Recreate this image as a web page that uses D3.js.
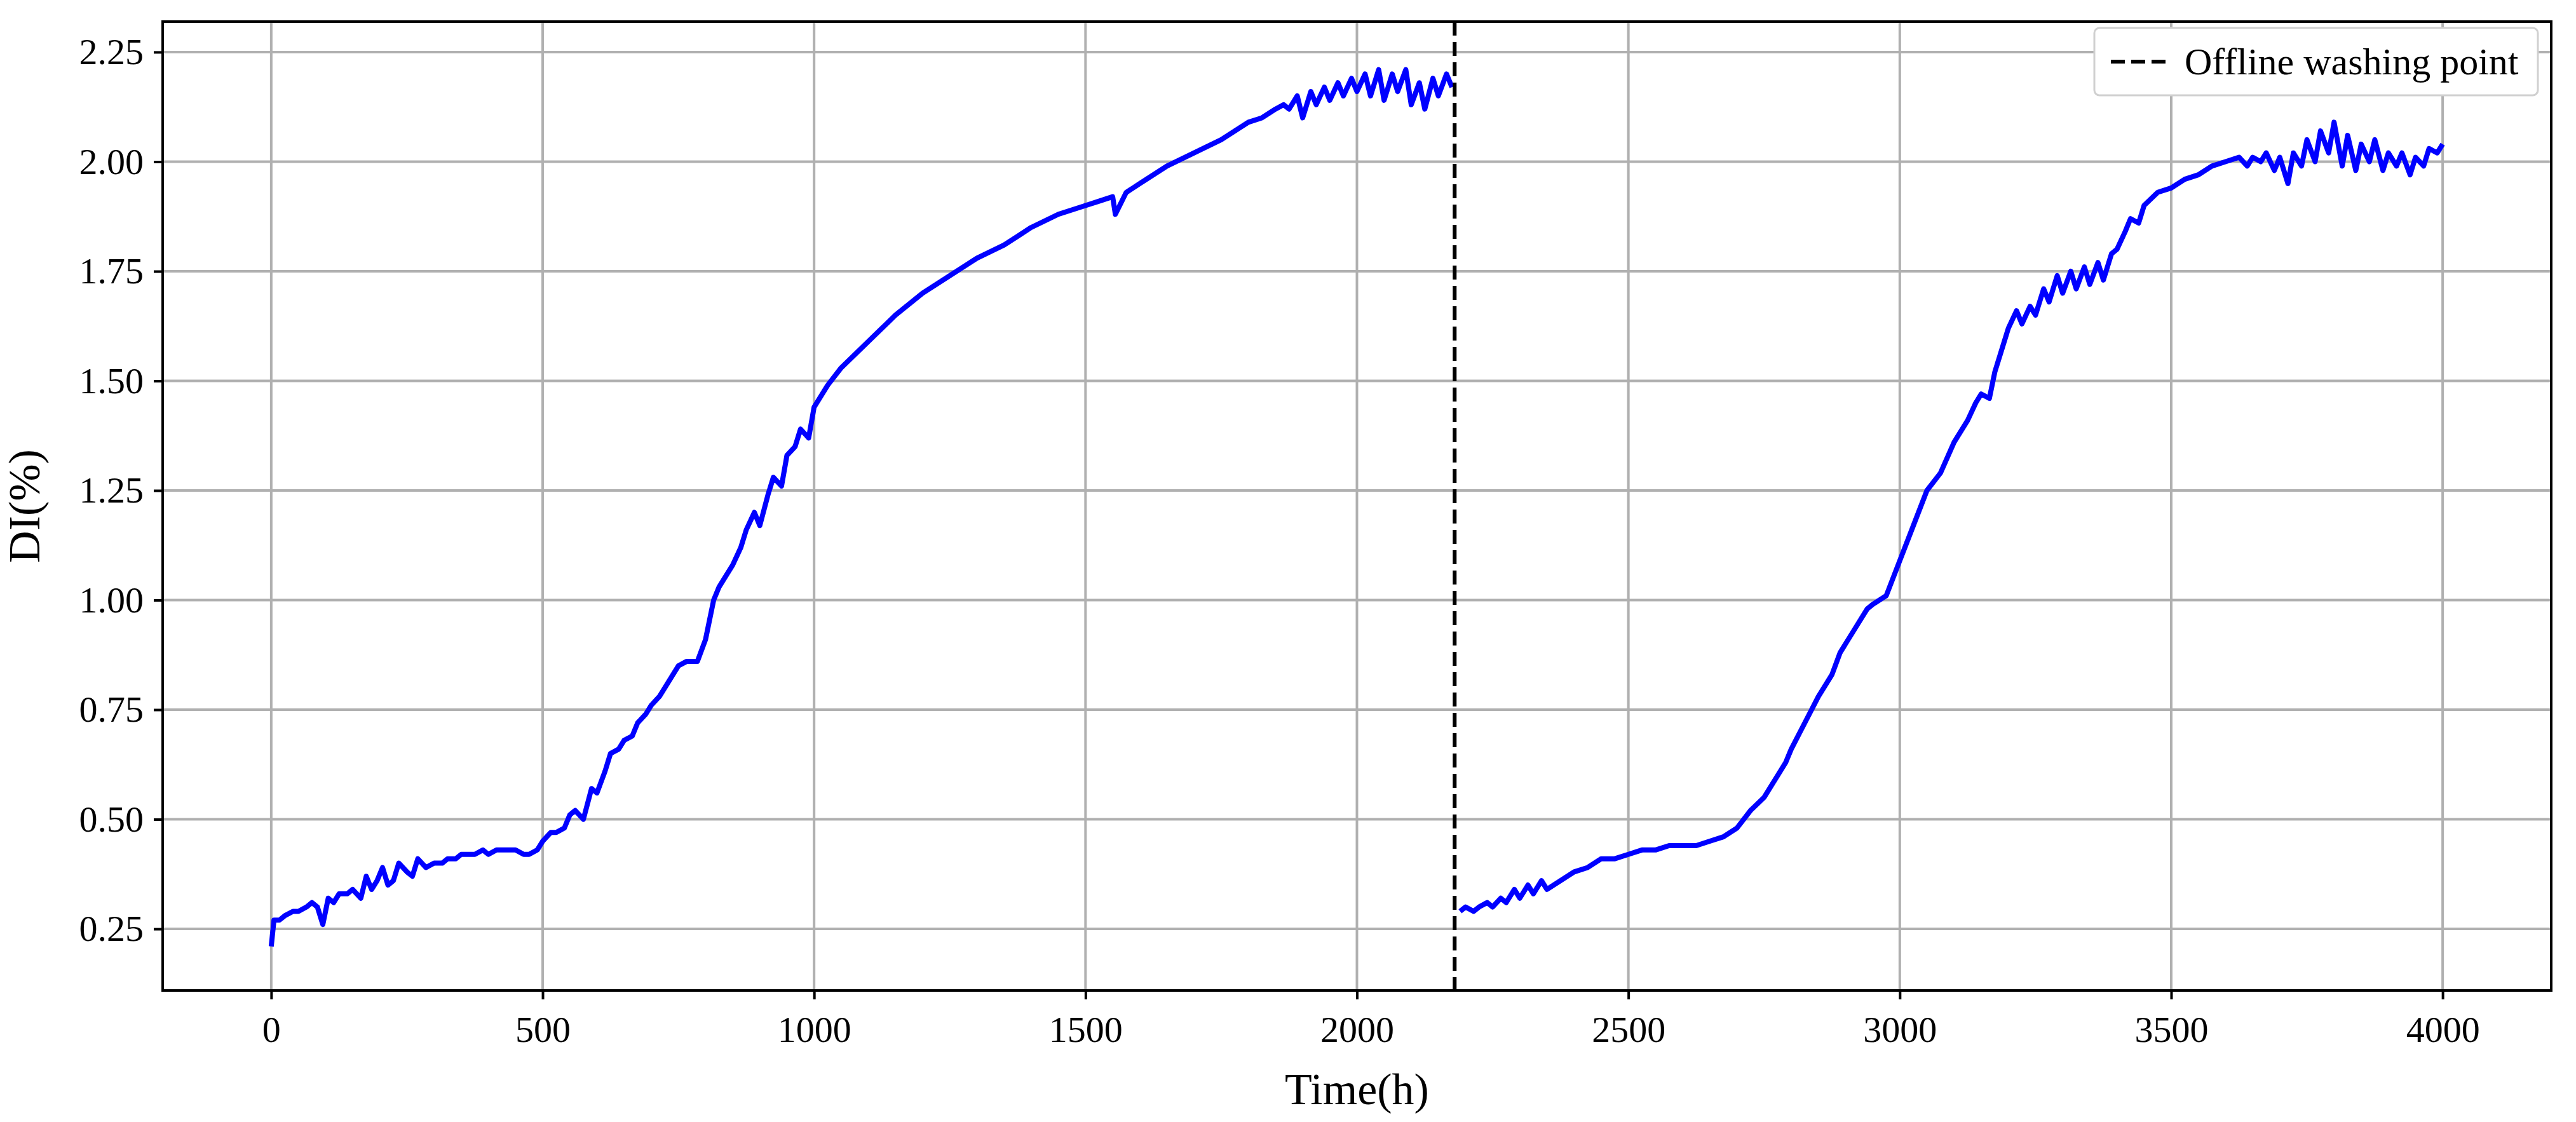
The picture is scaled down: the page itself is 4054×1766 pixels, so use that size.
<!DOCTYPE html>
<html>
<head>
<meta charset="utf-8">
<script src="https://cdn.jsdelivr.net/npm/d3@7"></script>
<style>
  body { margin: 0; background: #fff; }
  text { font-family: "Liberation Serif", "Times New Roman", serif; }
</style>
</head>
<body>
<svg id="chart" width="4054" height="1766"></svg>
<script>
// Data
var seg1Time = [0, 5, 15, 25, 40, 50, 65, 75, 85, 95, 105, 115, 125, 140, 150, 165, 175, 185, 195, 205, 215, 225, 235, 250, 260, 270, 285, 300, 315, 325, 340, 350, 365, 375, 390, 400, 415, 425, 440, 450, 465, 475, 490, 500, 515, 525, 540, 550, 560, 575, 590, 600, 615, 625, 640, 650, 665, 675, 690, 700, 715, 725, 740, 750, 765, 775, 785, 800, 815, 825, 840, 850, 865, 875, 890, 900, 915, 925, 940, 950, 965, 975, 990, 1000, 1025, 1050, 1075, 1100, 1125, 1150, 1200, 1250, 1300, 1350, 1375, 1400, 1450, 1500, 1525, 1550, 1555, 1575, 1600, 1650, 1700, 1750, 1775, 1800, 1825, 1850, 1865, 1875, 1890, 1900, 1915, 1925, 1940, 1950, 1965, 1975, 1990, 2000, 2015, 2025, 2040, 2050, 2065, 2075, 2090, 2100, 2115, 2125, 2140, 2150, 2165, 2175];
var seg1DI   = [0.21, 0.27, 0.27, 0.28, 0.29, 0.29, 0.30, 0.31, 0.30, 0.26, 0.32, 0.31, 0.33, 0.33, 0.34, 0.32, 0.37, 0.34, 0.36, 0.39, 0.35, 0.36, 0.40, 0.38, 0.37, 0.41, 0.39, 0.40, 0.40, 0.41, 0.41, 0.42, 0.42, 0.42, 0.43, 0.42, 0.43, 0.43, 0.43, 0.43, 0.42, 0.42, 0.43, 0.45, 0.47, 0.47, 0.48, 0.51, 0.52, 0.50, 0.57, 0.56, 0.61, 0.65, 0.66, 0.68, 0.69, 0.72, 0.74, 0.76, 0.78, 0.80, 0.83, 0.85, 0.86, 0.86, 0.86, 0.91, 1.00, 1.03, 1.06, 1.08, 1.12, 1.16, 1.20, 1.17, 1.24, 1.28, 1.26, 1.33, 1.35, 1.39, 1.37, 1.44, 1.49, 1.53, 1.56, 1.59, 1.62, 1.65, 1.70, 1.74, 1.78, 1.81, 1.83, 1.85, 1.88, 1.90, 1.91, 1.92, 1.88, 1.93, 1.95, 1.99, 2.02, 2.05, 2.07, 2.09, 2.10, 2.12, 2.13, 2.12, 2.15, 2.10, 2.16, 2.13, 2.17, 2.14, 2.18, 2.15, 2.19, 2.16, 2.20, 2.15, 2.21, 2.14, 2.20, 2.16, 2.21, 2.13, 2.18, 2.12, 2.19, 2.15, 2.20, 2.17];
var seg2Time = [2190, 2200, 2215, 2225, 2240, 2250, 2265, 2275, 2290, 2300, 2315, 2325, 2340, 2350, 2375, 2400, 2425, 2450, 2475, 2500, 2525, 2550, 2575, 2600, 2625, 2650, 2675, 2700, 2725, 2750, 2765, 2775, 2790, 2800, 2825, 2850, 2875, 2890, 2900, 2925, 2940, 2950, 2975, 3000, 3025, 3050, 3075, 3100, 3115, 3125, 3140, 3150, 3165, 3175, 3190, 3200, 3215, 3225, 3240, 3250, 3265, 3275, 3290, 3300, 3315, 3325, 3340, 3350, 3365, 3375, 3390, 3400, 3415, 3425, 3440, 3450, 3475, 3500, 3525, 3550, 3575, 3600, 3625, 3640, 3650, 3665, 3675, 3690, 3700, 3715, 3725, 3740, 3750, 3765, 3775, 3790, 3800, 3815, 3825, 3840, 3850, 3865, 3875, 3890, 3900, 3915, 3925, 3940, 3950, 3965, 3975, 3990, 4000];
var seg2DI   = [0.29, 0.30, 0.29, 0.30, 0.31, 0.30, 0.32, 0.31, 0.34, 0.32, 0.35, 0.33, 0.36, 0.34, 0.36, 0.38, 0.39, 0.41, 0.41, 0.42, 0.43, 0.43, 0.44, 0.44, 0.44, 0.45, 0.46, 0.48, 0.52, 0.55, 0.58, 0.60, 0.63, 0.66, 0.72, 0.78, 0.83, 0.88, 0.90, 0.95, 0.98, 0.99, 1.01, 1.09, 1.17, 1.25, 1.29, 1.36, 1.39, 1.41, 1.45, 1.47, 1.46, 1.52, 1.58, 1.62, 1.66, 1.63, 1.67, 1.65, 1.71, 1.68, 1.74, 1.70, 1.75, 1.71, 1.76, 1.72, 1.77, 1.73, 1.79, 1.80, 1.84, 1.87, 1.86, 1.90, 1.93, 1.94, 1.96, 1.97, 1.99, 2.00, 2.01, 1.99, 2.01, 2.00, 2.02, 1.98, 2.01, 1.95, 2.02, 1.99, 2.05, 2.00, 2.07, 2.02, 2.09, 1.99, 2.06, 1.98, 2.04, 2.00, 2.05, 1.98, 2.02, 1.99, 2.02, 1.97, 2.01, 1.99, 2.03, 2.02, 2.04];
var washTime = 2180;
var xTicks = [0, 500, 1000, 1500, 2000, 2500, 3000, 3500, 4000];
var yTicks = [0.25, 0.50, 0.75, 1.00, 1.25, 1.50, 1.75, 2.00, 2.25];

var margin = {left: 256, right: 39, top: 34, bottom: 207};
var width = 4054, height = 1766;
var svg = d3.select("#chart");

var x = d3.scaleLinear().domain([-200, 4200]).range([margin.left, width - margin.right]);
var y = d3.scaleLinear().domain([0.1095, 2.3195]).range([height - margin.bottom, margin.top]);

// Grid lines
svg.append("g").selectAll("line").data(xTicks).enter().append("line")
  .attr("x1", function(d){ return x(d); }).attr("x2", function(d){ return x(d); })
  .attr("y1", margin.top).attr("y2", height - margin.bottom)
  .attr("stroke", "#b0b0b0").attr("stroke-width", 4);
svg.append("g").selectAll("line").data(yTicks).enter().append("line")
  .attr("x1", margin.left).attr("x2", width - margin.right)
  .attr("y1", function(d){ return y(d); }).attr("y2", function(d){ return y(d); })
  .attr("stroke", "#b0b0b0").attr("stroke-width", 4);

// Data lines
var line = d3.line().x(function(d){ return x(d[0]); }).y(function(d){ return y(d[1]); });
[[seg1Time, seg1DI], [seg2Time, seg2DI]].forEach(function(s){
  svg.append("path")
    .datum(d3.zip(s[0], s[1]))
    .attr("d", line)
    .attr("fill", "none").attr("stroke", "#0000ff").attr("stroke-width", 8)
    .attr("stroke-linejoin", "round");
});

// Washing point
svg.append("line")
  .attr("x1", x(washTime)).attr("x2", x(washTime))
  .attr("y1", margin.top).attr("y2", height - margin.bottom)
  .attr("stroke", "#000").attr("stroke-width", 6).attr("stroke-dasharray", "22,10");

// Axes
var xAxis = d3.axisBottom(x).tickValues(xTicks).tickSize(14).tickPadding(26).tickFormat(d3.format("d"));
var yAxis = d3.axisLeft(y).tickValues(yTicks).tickSize(14).tickPadding(16).tickFormat(d3.format(".2f"));
var gx = svg.append("g").attr("transform", "translate(0," + (height - margin.bottom) + ")").call(xAxis);
var gy = svg.append("g").attr("transform", "translate(" + margin.left + ",0)").call(yAxis);
[gx, gy].forEach(function(g){
  g.select(".domain").remove();
  g.selectAll(".tick line").attr("stroke", "#000").attr("stroke-width", 4);
  g.selectAll(".tick text").attr("font-size", 58).attr("fill", "#000")
    .style("font-family", "Liberation Serif");
});

// Frame
svg.append("rect")
  .attr("x", margin.left).attr("y", margin.top)
  .attr("width", width - margin.left - margin.right)
  .attr("height", height - margin.top - margin.bottom)
  .attr("fill", "none").attr("stroke", "#000").attr("stroke-width", 4);

// Axis labels
svg.append("text").attr("x", (margin.left + width - margin.right) / 2).attr("y", 1738)
  .attr("text-anchor", "middle").attr("font-size", 70).text("Time(h)");
svg.append("text").attr("transform", "translate(62," + ((margin.top + height - margin.bottom) / 2) + ") rotate(-90)")
  .attr("text-anchor", "middle").attr("font-size", 70).text("DI(%)");

// Legend
var lg = svg.append("g").attr("transform", "translate(3296,44)");
lg.append("rect").attr("width", 698).attr("height", 106).attr("rx", 8)
  .attr("fill", "#fff").attr("stroke", "#d0d0d0").attr("stroke-width", 3);
lg.append("line").attr("x1", 26).attr("x2", 114).attr("y1", 53).attr("y2", 53)
  .attr("stroke", "#000").attr("stroke-width", 6).attr("stroke-dasharray", "22,10");
lg.append("text").attr("x", 142).attr("y", 73).attr("font-size", 60).text("Offline washing point");
</script>
</body>
</html>
